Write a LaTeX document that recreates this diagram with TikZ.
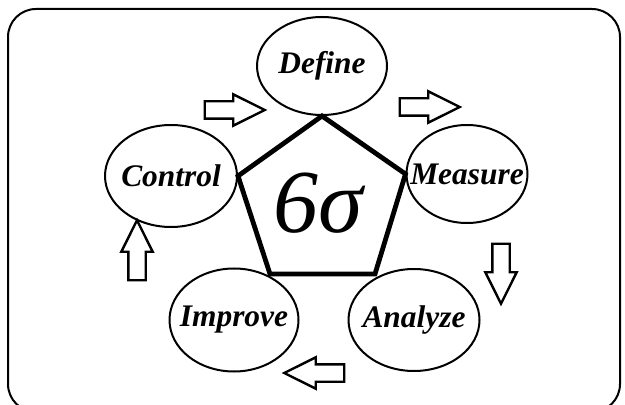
\documentclass[tikz,border=0pt]{standalone}
\usepackage{fontspec}
\setmainfont{Liberation Serif}
\usetikzlibrary{shapes.geometric, shapes.arrows, positioning}
\newcommand{\rotulo}[1]{\makebox[0pt]{#1}}

\begin{document}
\begin{tikzpicture}[x=0.5pt, y=-0.5pt,
  etapa/.style={draw, ellipse, line width=1pt, inner sep=0pt,
    font=\fontsize{15.7}{18}\selectfont\bfseries\itshape},
  seta/.style={draw, single arrow, line width=1.2pt, minimum height=30pt,
    inner sep=3.75pt, single arrow tip angle=53, single arrow head extend=3.5pt}]
  \useasboundingbox (0,0) rectangle (625,405);

  % Moldura
  \draw[line width=1pt, rounded corners=14pt] (8,9) rectangle (620,412);

  % Etapas
  \node[etapa, minimum width=65pt, minimum height=49pt] (define) at (322,66) {\rotulo{Define}};
  \node[etapa, minimum width=60.5pt, minimum height=49pt] (measure) at (467,174) {\rotulo{Measure}};
  \node[etapa, minimum width=65.5pt, minimum height=51pt] (analyze) at (414,320) {\rotulo{Analyze}};
  \node[etapa, minimum width=64.5pt, minimum height=51.5pt] (improve) at (234,320) {\rotulo{Improve}};
  \node[etapa, minimum width=66pt, minimum height=51pt] (control) at (171,176) {\rotulo{Control}};

  % Pentagono
  \draw[line width=2.4pt] (define.south) -- (measure.west) -- (375,274)
    -- (270,274) -- (control.east) -- cycle;
  \node[font=\fontsize{45}{50}\selectfont\itshape] (sigma) at (318,203) {6σ};

  % Setas
  \node[seta] (seta1) at (226,110) {};
  \node[seta] (seta2) at (421,107) {};
  \node[seta, rotate=-90] (seta3) at (501,265) {};
  \node[seta, rotate=180] (seta4) at (323,373) {};
  \node[seta, rotate=90] (seta5) at (137,259) {};
\end{tikzpicture}
\end{document}
